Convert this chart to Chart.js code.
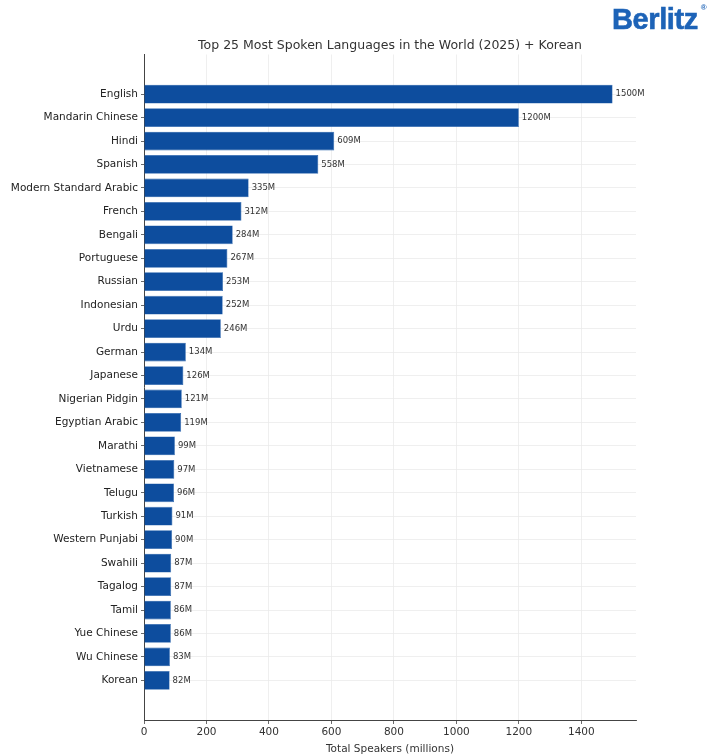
<!DOCTYPE html>
<html>
<head>
<meta charset="utf-8">
<script src="https://cdn.jsdelivr.net/npm/chart.js@4/dist/chart.umd.min.js"></script>
<style>
  html, body { margin: 0; padding: 0; background: #fff; }
  #wrap { position: relative; width: 720px; height: 756px; }
  #logo {
    position: absolute; left: 612px; top: 3px;
    font-family: "Liberation Sans", Arial, sans-serif; font-weight: bold;
    font-size: 29px; color: #1d63b7; letter-spacing: -0.4px;
    -webkit-text-stroke: 0.6px #1d63b7;
  }
  #logo sup { font-size: 8px; position: relative; top: -8px; margin-left: 3px; -webkit-text-stroke: 0; }
</style>
</head>
<body>
<div id="wrap">
  <canvas id="chart" width="720" height="756"></canvas>
  <div id="logo">Berlitz<sup>®</sup></div>
</div>
<script>
const languages = ['English', 'Mandarin Chinese', 'Hindi', 'Spanish', 'Modern Standard Arabic',
  'French', 'Bengali', 'Portuguese', 'Russian', 'Indonesian', 'Urdu', 'German', 'Japanese',
  'Nigerian Pidgin', 'Egyptian Arabic', 'Marathi', 'Vietnamese', 'Telugu', 'Turkish',
  'Western Punjabi', 'Swahili', 'Tagalog', 'Tamil', 'Yue Chinese', 'Wu Chinese', 'Korean'];
const speakers = [1500, 1200, 609, 558, 335, 312, 284, 267, 253, 252, 246, 134, 126,
  121, 119, 99, 97, 96, 91, 90, 87, 87, 86, 86, 83, 82];
const xTicks = [0, 200, 400, 600, 800, 1000, 1200, 1400];

// value labels at the end of each bar
const valueLabels = {
  id: 'valueLabels',
  afterDatasetsDraw(chart) {
    const ctx = chart.ctx;
    const meta = chart.getDatasetMeta(0);
    ctx.save();
    ctx.font = '8.5px "DejaVu Sans"';
    ctx.fillStyle = '#333';
    ctx.textBaseline = 'middle';
    meta.data.forEach((bar, i) => {
      ctx.fillText(speakers[i] + 'M', bar.x + 3, bar.y);
    });
    ctx.restore();
  }
};

const ctx = document.getElementById('chart').getContext('2d');
const chart = new Chart(ctx, {
  type: 'bar',
  data: {
    datasets: [{
      data: speakers.map((v, i) => ({ x: v, y: i })),
      backgroundColor: '#0d4d9e',
      borderColor: '#2a64ad',
      borderWidth: 0.6,
      barPercentage: 0.8,
      categoryPercentage: 1
    }]
  },
  options: {
    indexAxis: 'y',
    responsive: false,
    animation: false,
    layout: { padding: { top: 0, right: 84, bottom: 0, left: 0 } },
    plugins: {
      legend: { display: false },
      tooltip: { enabled: false },
      title: {
        display: true,
        fullSize: false,
        text: 'Top 25 Most Spoken Languages in the World (2025) + Korean',
        color: '#333',
        font: { family: 'DejaVu Sans', size: 12.5, weight: 'normal' },
        padding: { top: 38, bottom: 1.5 }
      }
    },
    scales: {
      x: {
        type: 'linear',
        min: 0,
        max: 1575,
        afterBuildTicks(s) { s.ticks = xTicks.map(v => ({ value: v })); },
        afterFit(s) { s.height = 36; },
        ticks: {
          color: '#333', font: { family: 'DejaVu Sans', size: 10.5 }, padding: 2,
          callback: (v) => String(v)
        },
        grid: { color: '#ebebeb', tickColor: '#444', tickLength: 4, lineWidth: 0.8 },
        border: { color: '#444', width: 1 },
        title: {
          display: true, text: 'Total Speakers (millions)', color: '#333',
          font: { family: 'DejaVu Sans', size: 10.5 }, padding: { top: 1, bottom: 0 }
        }
      },
      y: {
        type: 'linear',
        reverse: true,
        offset: false,
        bounds: 'data',
        min: -1.69,
        max: 26.69,
        afterBuildTicks(s) { s.ticks = languages.map((_, i) => ({ value: i })); },
        afterFit(s) { s.width = 144; },
        ticks: {
          color: '#222',
          font: { family: 'DejaVu Sans', size: 10.5 },
          padding: 3,
          autoSkip: false,
          callback: (v) => languages[v]
        },
        grid: { color: '#ebebeb', tickColor: '#444', tickLength: 3, lineWidth: 0.8, offset: false },
        border: { color: '#444', width: 1 }
      }
    }
  },
  plugins: [valueLabels]
});
</script>
</body>
</html>
